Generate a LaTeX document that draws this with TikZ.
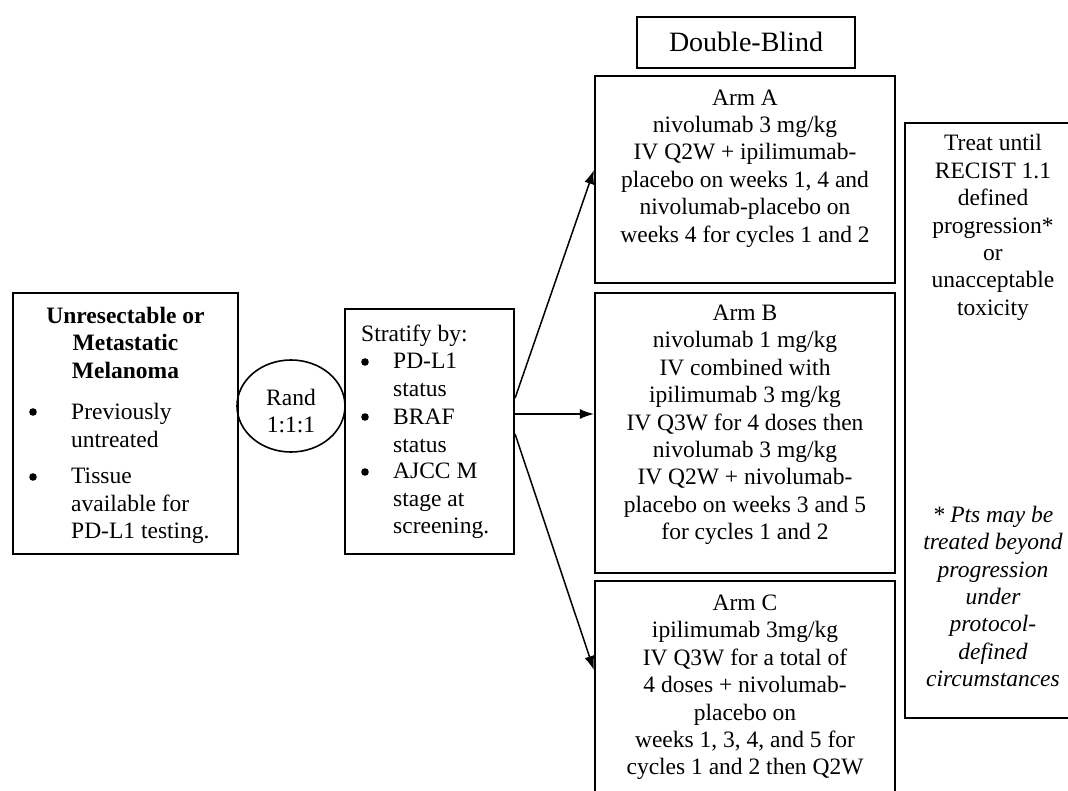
\documentclass[tikz,border=0pt]{standalone}
\usepackage{fontspec}
\setmainfont{Liberation Serif}
\usetikzlibrary{arrows.meta,shapes.geometric}
\newcommand\mystrut{\rule[-8.2pt]{0pt}{27.4pt}}
\begin{document}
\begin{tikzpicture}[x=1pt,y=-1pt,
  box/.style={draw, line width=2.2pt, inner sep=0pt},
  txt/.style={inner sep=0pt, align=center, font=\fontsize{23.5pt}{27.4pt}\selectfont,
    execute at begin node=\mystrut, execute at end node=\mystrut},
  ltxt/.style={txt, align=left, anchor=west},
  arr/.style={line width=1.5pt, -{Latex[length=14pt,width=10pt]}},
  dot/.style={fill=black}]
\clip (0,0) rectangle (1068,790);
\fill[white] (0,0) rectangle (1068,790);
% boxes
\node[box, minimum width=225pt, minimum height=261pt] (pop) at (125.5,423.5) {};
\node[draw, line width=1.6pt, ellipse, minimum width=108pt, minimum height=92pt, inner sep=0pt] (rand) at (291,406) {};
\node[box, minimum width=169pt, minimum height=245pt] (strat) at (429.5,431.5) {};
\node[box, minimum width=218pt, minimum height=51pt] (db) at (746,42.5) {};
\node[box, minimum width=300pt, minimum height=207pt] (armA) at (745,179.5) {};
\node[box, minimum width=300pt, minimum height=280pt] (armB) at (745,433) {};
\node[box, minimum width=300pt, minimum height=219pt] (armC) at (745,690.5) {};
\node[box, minimum width=176pt, minimum height=595pt] (treat) at (993,420.5) {};
% left box text
\node[txt, font=\fontsize{23.5pt}{27.4pt}\selectfont\bfseries] (poptitle) at (125.5,346.7) {Unresectable or\\Metastatic\\Melanoma};
\fill[dot] (33,412) circle (3.8);
\node[ltxt] (popi1) at (71,429.5) {Previously\\untreated};
\fill[dot] (33,477) circle (3.8);
\node[ltxt] (popi2) at (71,507.5) {Tissue\\available for\\PD-L1 testing.};
% rand
\node[txt] (randtxt) at (291,415) {Rand\\1:1:1};
% stratify
\node[ltxt] (strath) at (361,336) {Stratify by:};
\fill[dot] (365,362) circle (3.8);
\node[ltxt] (strat1) at (393,379) {PD-L1\\status};
\fill[dot] (365,417) circle (3.8);
\node[ltxt] (strat2) at (393,435) {BRAF\\status};
\fill[dot] (365,472) circle (3.8);
\node[ltxt] (strat3) at (393,502.5) {AJCC M\\stage at\\screening.};
% double blind
\node[txt, font=\fontsize{28pt}{32pt}\selectfont, execute at begin node={}, execute at end node={}] (dbtxt) at (746,45.5) {Double-Blind};
% arms
\node[txt] (armAtxt) at (745,170) {Arm A\\nivolumab 3 mg/kg\\IV Q2W + ipilimumab-\\placebo on weeks 1, 4 and\\nivolumab-placebo on\\weeks 4 for cycles 1 and 2};
\node[txt] (armBtxt) at (745,426.5) {Arm B\\nivolumab 1 mg/kg\\IV combined with\\ipilimumab 3 mg/kg\\IV Q3W for 4 doses then\\nivolumab 3 mg/kg\\IV Q2W + nivolumab-\\placebo on weeks 3 and 5\\for cycles 1 and 2};
\node[txt] (armCtxt) at (745,689) {Arm C\\ipilimumab 3mg/kg\\IV Q3W for a total of\\4 doses + nivolumab-\\placebo on\\weeks 1, 3, 4, and 5 for\\cycles 1 and 2 then Q2W};
% right box
\node[txt] (treattxt) at (993,229) {Treat until\\RECIST 1.1\\defined\\progression*\\or\\unacceptable\\toxicity};
\node[txt, font=\fontsize{23.5pt}{27.4pt}\selectfont\itshape] (note) at (993,600.5) {* Pts may be\\treated beyond\\progression\\under\\protocol-\\defined\\circumstances};
% arrows
\draw[arr] ([yshift=33.5pt]strat.east) -- ([yshift=9.5pt]armA.west);
\draw[arr] ([yshift=17.5pt]strat.east) -- ([yshift=19pt]armB.west);
\draw[arr] ([yshift=-2.5pt]strat.east) -- ([yshift=20.5pt]armC.west);
\end{tikzpicture}
\end{document}
